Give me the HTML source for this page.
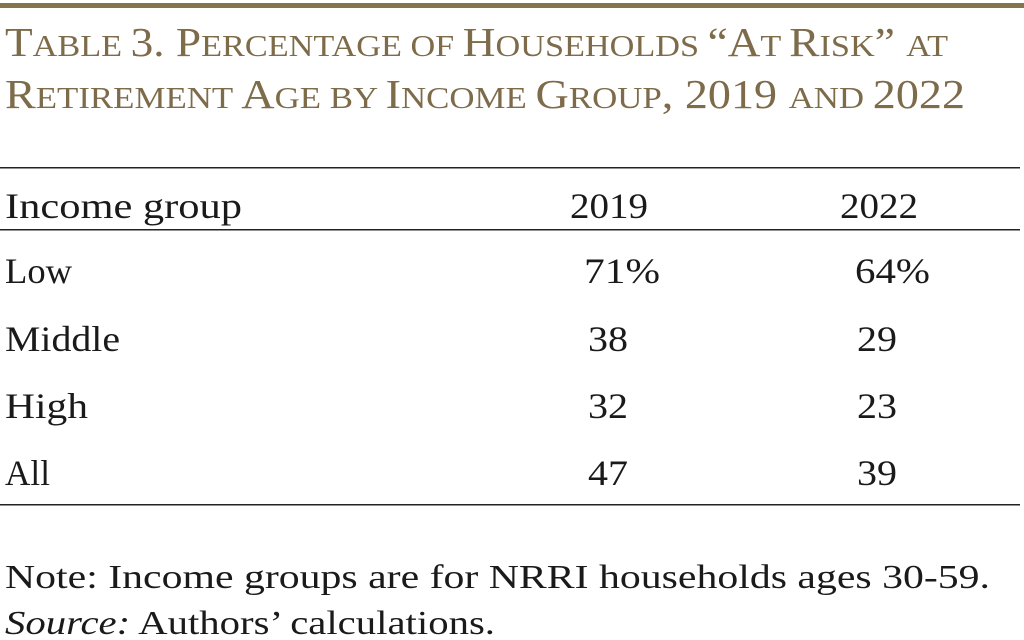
<!DOCTYPE html>
<html><head><meta charset="utf-8"><style>
html,body{margin:0;padding:0;background:#fff;}
svg{display:block;}
text{font-family:"Liberation Serif",serif;}
.t{fill:#7d6b4a;}
.b{fill:#1a1a1a;font-size:36px;}
</style></head><body>
<svg width="1024" height="640" viewBox="0 0 1024 640">
<rect x="0" y="3" width="1024" height="5" fill="#85754f"/>
<text class="t" x="5" y="56" textLength="943" lengthAdjust="spacingAndGlyphs"><tspan font-size="41">T</tspan><tspan font-size="31">ABLE </tspan><tspan font-size="41">3. P</tspan><tspan font-size="31">ERCENTAGE OF </tspan><tspan font-size="41">H</tspan><tspan font-size="31">OUSEHOLDS </tspan><tspan font-size="41">“A</tspan><tspan font-size="31">T </tspan><tspan font-size="41">R</tspan><tspan font-size="31">ISK</tspan><tspan font-size="41">” </tspan><tspan font-size="31">AT</tspan></text>
<text class="t" x="5" y="108" textLength="960" lengthAdjust="spacingAndGlyphs"><tspan font-size="41">R</tspan><tspan font-size="31">ETIREMENT </tspan><tspan font-size="41">A</tspan><tspan font-size="31">GE BY </tspan><tspan font-size="41">I</tspan><tspan font-size="31">NCOME </tspan><tspan font-size="41">G</tspan><tspan font-size="31">ROUP</tspan><tspan font-size="41">, 2019 </tspan><tspan font-size="31">AND </tspan><tspan font-size="41">2022</tspan></text>
<rect x="0" y="167" width="1020" height="1.5" fill="#222"/>
<rect x="0" y="229" width="1020" height="1.5" fill="#222"/>
<rect x="0" y="504" width="1020" height="1.5" fill="#222"/>
<text class="b" x="5" y="218" textLength="237" lengthAdjust="spacingAndGlyphs">Income group</text>
<text class="b" x="570" y="218" textLength="78" lengthAdjust="spacingAndGlyphs">2019</text>
<text class="b" x="840" y="218" textLength="78" lengthAdjust="spacingAndGlyphs">2022</text>

<text class="b" x="5" y="283" textLength="67" lengthAdjust="spacingAndGlyphs">Low</text>
<text class="b" x="584" y="283" textLength="76" lengthAdjust="spacingAndGlyphs">71%</text>
<text class="b" x="855" y="283" textLength="75" lengthAdjust="spacingAndGlyphs">64%</text>

<text class="b" x="5" y="351" textLength="115" lengthAdjust="spacingAndGlyphs">Middle</text>
<text class="b" x="588" y="351" textLength="40" lengthAdjust="spacingAndGlyphs">38</text>
<text class="b" x="857" y="351" textLength="40" lengthAdjust="spacingAndGlyphs">29</text>

<text class="b" x="5" y="418" textLength="83" lengthAdjust="spacingAndGlyphs">High</text>
<text class="b" x="588" y="418" textLength="40" lengthAdjust="spacingAndGlyphs">32</text>
<text class="b" x="857" y="418" textLength="40" lengthAdjust="spacingAndGlyphs">23</text>

<text class="b" x="5" y="485" textLength="45" lengthAdjust="spacingAndGlyphs">All</text>
<text class="b" x="588" y="485" textLength="40" lengthAdjust="spacingAndGlyphs">47</text>
<text class="b" x="857" y="485" textLength="40" lengthAdjust="spacingAndGlyphs">39</text>

<text class="b" x="5" y="588" textLength="985" lengthAdjust="spacingAndGlyphs" style="font-size:34px">Note: Income groups are for NRRI households ages 30-59.</text>
<text class="b" x="5" y="634" textLength="490" lengthAdjust="spacingAndGlyphs" style="font-size:34px"><tspan font-style="italic">Source:</tspan> Authors’ calculations.</text>
</svg>
</body></html>
